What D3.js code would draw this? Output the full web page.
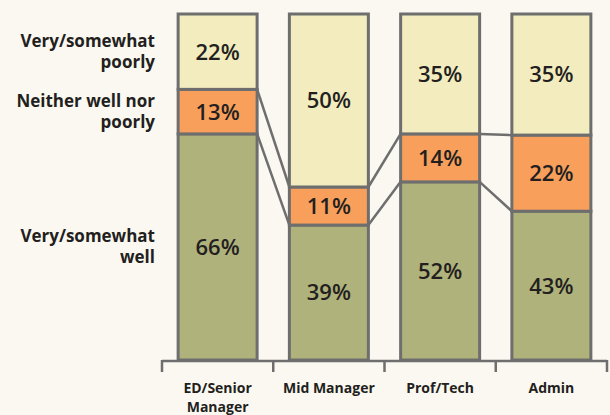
<!DOCTYPE html>
<html>
<head>
<meta charset="utf-8">
<script src="https://cdn.jsdelivr.net/npm/d3@7"></script>
<style>
  html, body { margin: 0; padding: 0; background: #fbf8f1; }
  svg { display: block; font-family: "Open Sans", sans-serif; }
</style>
</head>
<body>
<div id="chart"></div>
<script>
const categories = ["ED/Senior Manager", "Mid Manager", "Prof/Tech", "Admin"];
const tickLines = [["ED/Senior", "Manager"], ["Mid Manager"], ["Prof/Tech"], ["Admin"]];
const seriesKeys = ["well", "neither", "poorly"];
const seriesNames = [["Very/somewhat", "well"], ["Neither well nor", "poorly"], ["Very/somewhat", "poorly"]];
const wellVals = [66, 39, 52, 43];
const neitherVals = [13, 11, 14, 22];
const poorlyVals = [22, 50, 35, 35];

const colors = { well: "#afb27a", neither: "#f8a05b", poorly: "#f2ecbe" };
const edge = "#6e6e6e";
const ink = "#231f20";

const width = 610, height = 415;

const rows = categories.map((c, i) => ({
  cat: c, well: wellVals[i], neither: neitherVals[i], poorly: poorlyVals[i]
}));

const svg = d3.select("#chart").append("svg")
    .attr("width", width)
    .attr("height", height);

svg.append("rect").attr("width", width).attr("height", height).attr("fill", "#fbf8f1");

const x = d3.scaleBand()
    .domain(categories)
    .range([162, 607])
    .paddingInner(0.29)
    .paddingOuter(0.145);

const y = d3.scaleLinear().domain([0, 1]).range([360, 14]);

const stack = d3.stack().keys(seriesKeys).offset(d3.stackOffsetExpand);
const layers = stack(rows);

// connector lines between neighbouring bars
const conn = svg.append("g");
[0, 1].forEach(li => {
  for (let i = 0; i < categories.length - 1; i++) {
    const a = layers[li][i][1], b = layers[li][i + 1][1];
    conn.append("line")
      .attr("x1", x(categories[i]) + x.bandwidth())
      .attr("y1", y(a))
      .attr("x2", x(categories[i + 1]))
      .attr("y2", y(b))
      .attr("stroke", edge)
      .attr("stroke-width", 2.5);
  }
});

const layerG = svg.append("g").selectAll("g")
  .data(layers)
  .join("g")
    .attr("fill", d => colors[d.key]);

layerG.selectAll("rect")
  .data(d => d)
  .join("rect")
    .attr("x", d => x(d.data.cat))
    .attr("y", d => y(d[1]))
    .attr("width", x.bandwidth())
    .attr("height", d => y(d[0]) - y(d[1]))
    .attr("stroke", edge)
    .attr("stroke-width", 3);

// value labels
layers.forEach(layer => {
  svg.append("g").selectAll("text")
    .data(layer)
    .join("text")
      .attr("x", d => x(d.data.cat) + x.bandwidth() / 2)
      .attr("y", d => (y(d[0]) + y(d[1])) / 2)
      .attr("dy", "0.36em")
      .attr("text-anchor", "middle")
      .attr("font-size", 22)
      .attr("font-weight", 600)
      .attr("fill", ink)
      .text(d => d.data[layer.key] + "%");
});

// series labels on the left, centred on the first bar's segments
layers.forEach((layer, li) => {
  const cy = (y(layer[0][0]) + y(layer[0][1])) / 2;
  const lines = seriesNames[li];
  const t = svg.append("text")
    .attr("text-anchor", "end")
    .attr("font-size", 17)
    .attr("font-weight", 700)
    .attr("fill", ink);
  lines.forEach((s, k) => {
    t.append("tspan")
      .attr("x", 155)
      .attr("y", cy + (k - (lines.length - 1) / 2) * 21)
      .attr("dy", "0.35em")
      .text(s);
  });
});

// bottom axis with ticks at band boundaries
const axisY = 361;
const gap = (x.step() - x.bandwidth()) / 2;
const bounds = categories.map(c => x(c) - gap).concat([x(categories[categories.length - 1]) + x.bandwidth() + gap]);
const ax = svg.append("g").attr("stroke", edge).attr("stroke-width", 2.5);
ax.append("line")
  .attr("x1", bounds[0]).attr("x2", bounds[bounds.length - 1])
  .attr("y1", axisY).attr("y2", axisY);
ax.selectAll("line.tick")
  .data(bounds)
  .join("line")
    .attr("class", "tick")
    .attr("x1", d => d).attr("x2", d => d)
    .attr("y1", axisY - 1).attr("y2", axisY + 11);

// category labels; wrapped lines as separate texts
categories.forEach((c, i) => {
  tickLines[i].forEach((s, k) => {
    svg.append("text")
      .attr("text-anchor", "middle")
      .attr("font-size", 14)
      .attr("font-weight", 700)
      .attr("fill", ink)
      .attr("x", x(c) + x.bandwidth() / 2)
      .attr("y", 393 + k * 19)
      .text(s);
  });
});
</script>
</body>
</html>
